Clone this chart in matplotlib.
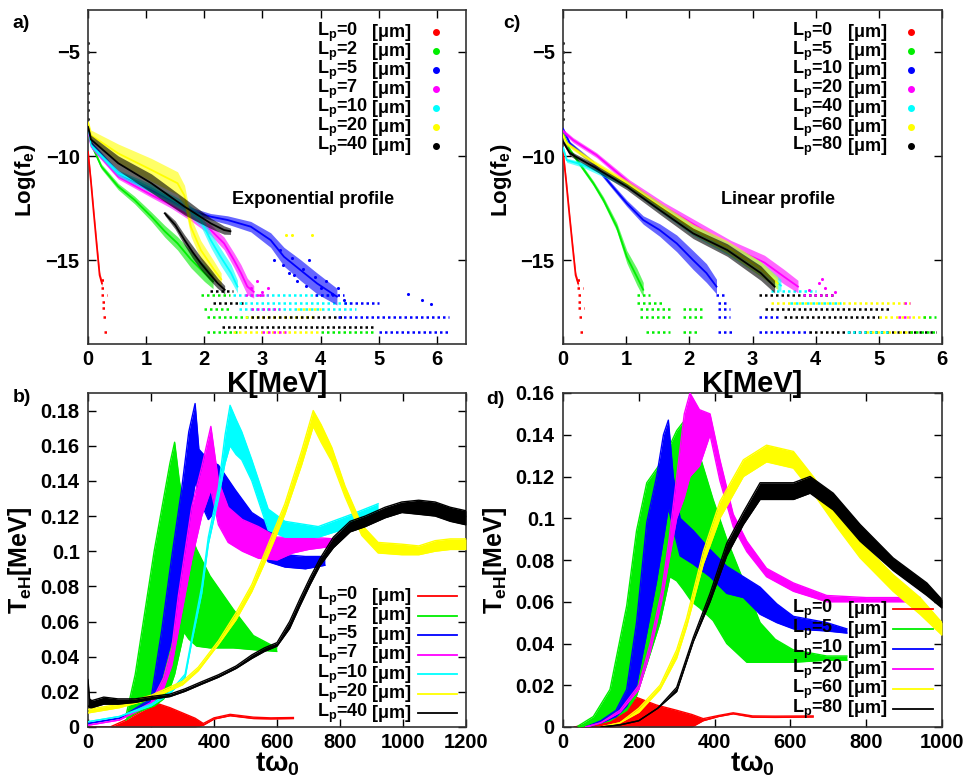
import matplotlib
matplotlib.use("Agg")
import matplotlib.pyplot as plt
import numpy as np

plt.rcParams['font.family'] = ['Liberation Sans', 'DejaVu Sans']
plt.rcParams['font.weight'] = 'bold'
plt.rcParams['mathtext.fontset'] = 'custom'
plt.rcParams['mathtext.rm'] = 'Liberation Sans:bold'
plt.rcParams['mathtext.it'] = 'Liberation Sans:bold'
plt.rcParams['mathtext.bf'] = 'Liberation Sans:bold'
plt.rcParams['mathtext.default'] = 'rm'

RED, GRN, BLU, MAG, CYN, YEL, BLK = '#ff0000', '#00ee00', '#0000ff', '#ff00ff', '#00ffff', '#ffff00', '#000000'

# ---------------- Panel a : exponential profile ----------------
A_LABELS = ['0', '2', '5', '7', '10', '20', '40']
A_COLORS = [RED, GRN, BLU, MAG, CYN, YEL, BLK]

A_RED_K = [0.0, 0.05, 0.10, 0.15, 0.20, 0.24]
A_RED_C = [-9.8, -11.2, -12.75, -14.25, -15.7, -16.1]
A_RED_W = [0.2, 0.15, 0.12, 0.12, 0.15, 0.15]

A_GRN_K = [0.0, 0.03, 0.1, 0.23, 0.52, 0.80, 1.09, 1.32, 1.54, 1.77, 2.0, 2.15]
A_GRN_C = [-8.9, -9.2, -9.7, -10.5, -11.46, -12.1, -12.9, -13.6, -14.18, -14.95, -15.6, -16.0]
A_GRN_W = [0.1, 0.1, 0.1, 0.12, 0.15, 0.18, 0.22, 0.28, 0.32, 0.4, 0.4, 0.35]

A_BLU_K = [0.0, 0.06, 0.52, 1.09, 1.54, 1.83, 2.11, 2.4, 2.8, 3.14, 3.37, 3.65, 3.94, 4.28]
A_BLU_C = [-8.7, -9.4, -10.82, -11.62, -12.26, -12.66, -12.9, -13.06, -13.38, -14.02, -14.82, -15.45, -16.1, -16.73]
A_BLU_W = [0.1, 0.1, 0.12, 0.12, 0.12, 0.15, 0.15, 0.2, 0.25, 0.35, 0.45, 0.5, 0.5, 0.4]

A_MAG_K = [0.0, 0.06, 0.52, 1.09, 1.43, 1.77, 2.11, 2.34, 2.51, 2.63, 2.74, 2.85]
A_MAG_C = [-8.8, -9.55, -10.98, -11.86, -12.34, -12.9, -13.54, -14.18, -14.98, -15.6, -16.25, -16.5]
A_MAG_W = [0.1, 0.1, 0.12, 0.12, 0.15, 0.2, 0.25, 0.3, 0.35, 0.4, 0.4, 0.3]

A_CYN_K = [0.0, 0.06, 0.52, 1.09, 1.66, 1.94, 2.11, 2.28, 2.46, 2.57]
A_CYN_C = [-8.6, -9.5, -10.82, -11.54, -12.42, -13.06, -14.02, -14.82, -15.6, -16.25]
A_CYN_W = [0.1, 0.12, 0.15, 0.2, 0.25, 0.3, 0.35, 0.4, 0.4, 0.3]

A_YEL_K = [0.0, 0.05, 0.52, 1.09, 1.54, 1.66, 1.77, 1.94, 2.17, 2.29]
A_YEL_C = [-8.4, -9.0, -9.87, -10.66, -11.3, -11.9, -13.4, -14.5, -15.45, -15.9]
A_YEL_W = [0.15, 0.25, 0.45, 0.55, 0.55, 0.5, 0.45, 0.45, 0.4, 0.3]

A_BLK_K = [0.0, 0.05, 0.52, 1.09, 1.66, 2.11, 2.34, 2.45]
A_BLK_C = [-8.6, -9.2, -10.34, -11.3, -12.42, -13.22, -13.54, -13.6]
A_BLK_W = [0.1, 0.2, 0.35, 0.45, 0.4, 0.25, 0.2, 0.15]
A_BLK2_K = [1.32, 1.5, 1.66, 1.8, 1.94, 2.08, 2.23, 2.35]
A_BLK2_C = [-12.74, -13.3, -14.02, -14.6, -15.13, -15.6, -16.09, -16.4]
A_BLK2_W = [0.1, 0.2, 0.25, 0.3, 0.3, 0.3, 0.25, 0.2]

A_SPIKE_L = [-4.6, -5.0, -5.5, -6.0, -6.5, -7.0, -7.4, -7.8, -8.2]

A_BLU_PTS_K = [3.2, 3.3, 3.35, 3.45, 3.5, 3.55, 3.6, 3.7, 3.75, 3.8, 3.9, 4.0, 4.1, 4.2, 4.3, 4.4, 5.5, 5.75, 5.9]
A_BLU_PTS_L = [-15.0, -14.5, -15.2, -15.6, -14.9, -15.7, -16.0, -15.4, -16.2, -15.0, -15.8, -16.3, -16.0, -16.6, -16.3, -16.9, -16.6, -16.9, -17.1]
A_YEL_PTS_K = [3.4, 3.5, 3.85]
A_YEL_PTS_L = [-13.8, -13.8, -13.8]
A_MAG_PTS_K = [2.8, 2.9, 3.0, 3.1, 2.95]
A_MAG_PTS_L = [-16.3, -16.0, -16.5, -16.3, -16.65]

# rows of quantised tail points: (colour index, level, K start, K end)
A_ROWS = [
    (0, -15.93, 0.22, 0.30), (0, -16.33, 0.22, 0.31), (0, -16.65, 0.23, 0.32), (0, -16.97, 0.24, 0.32),
    (0, -17.29, 0.24, 0.33), (0, -17.69, 0.25, 0.33), (0, -18.41, 0.27, 0.34),
    (1, -16.65, 1.95, 2.45), (1, -17.33, 2.0, 2.45), (1, -17.73, 2.05, 2.75), (1, -18.43, 2.05, 2.6),
    (5, -18.43, 2.5, 4.0), (5, -17.73, 2.7, 3.9), (5, -17.33, 3.6, 4.0),
    (6, -16.45, 2.1, 2.5), (6, -17.03, 2.15, 2.7), (6, -17.73, 2.8, 4.4), (6, -18.2, 2.3, 4.95),
    (4, -16.65, 2.5, 4.2), (4, -17.03, 2.6, 4.5), (4, -17.33, 2.6, 4.6),
    (3, -16.65, 2.7, 3.1), (3, -17.33, 2.8, 3.3), (3, -18.43, 3.0, 3.4),
    (2, -16.65, 3.9, 4.4), (2, -17.03, 4.4, 5.0), (2, -17.73, 4.3, 6.2), (2, -18.43, 5.0, 6.2),
    (1, -18.43, 4.0, 4.9),
]

# ---------------- Panel c : linear profile ----------------
C_LABELS = ['0', '5', '10', '20', '40', '60', '80']
C_COLORS = [RED, GRN, BLU, MAG, CYN, YEL, BLK]

C_GRN_K = [0.0, 0.11, 0.48, 0.64, 0.85, 1.01, 1.17, 1.27]
C_GRN_C = [-8.9, -9.71, -11.3, -12.1, -13.38, -14.82, -15.78, -16.4]
C_GRN_W = [0.1, 0.1, 0.12, 0.15, 0.2, 0.3, 0.4, 0.35]

C_BLU_K = [0.0, 0.11, 0.48, 0.74, 1.01, 1.27, 1.53, 1.8, 2.06, 2.27, 2.43]
C_BLU_C = [-8.7, -9.4, -10.34, -11.3, -12.26, -13.06, -13.54, -14.18, -14.98, -15.6, -16.25]
C_BLU_W = [0.1, 0.1, 0.12, 0.12, 0.15, 0.2, 0.3, 0.4, 0.45, 0.45, 0.35]

C_MAG_K = [0.0, 0.16, 0.53, 1.06, 1.6, 2.13, 2.66, 3.19, 3.5, 3.72]
C_MAG_C = [-8.8, -9.23, -9.95, -11.3, -12.42, -13.38, -14.34, -15.1, -15.78, -16.25]
C_MAG_W = [0.1, 0.12, 0.12, 0.15, 0.2, 0.25, 0.3, 0.35, 0.35, 0.3]

C_CYN_K = [0.0, 0.06, 0.3, 1.01, 1.53, 2.06, 2.6, 3.13, 3.45]
C_CYN_C = [-9.6, -10.2, -10.4, -11.35, -12.45, -13.55, -14.4, -15.4, -16.2]
C_CYN_W = [0.1, 0.1, 0.12, 0.15, 0.2, 0.25, 0.3, 0.35, 0.3]

C_YEL_K = [0.0, 0.06, 0.48, 1.01, 1.53, 2.06, 2.6, 3.13, 3.4]
C_YEL_C = [-9.0, -9.4, -10.3, -11.3, -12.4, -13.5, -14.35, -15.4, -16.1]
C_YEL_W = [0.1, 0.1, 0.12, 0.15, 0.2, 0.25, 0.3, 0.35, 0.3]

C_BLK_K = [0.0, 0.11, 0.48, 1.01, 1.53, 2.06, 2.6, 3.13, 3.35]
C_BLK_C = [-9.3, -9.87, -10.5, -11.46, -12.58, -13.7, -14.5, -15.6, -16.25]
C_BLK_W = [0.1, 0.12, 0.15, 0.15, 0.2, 0.25, 0.3, 0.35, 0.3]

C_MAG_PTS_K = [4.05, 4.1, 4.15, 3.9, 4.3]
C_MAG_PTS_L = [-16.1, -15.9, -16.3, -16.4, -16.5]

C_ROWS = [
    (0, -15.93, 0.22, 0.30), (0, -16.33, 0.22, 0.31), (0, -16.65, 0.23, 0.32), (0, -16.97, 0.24, 0.32),
    (0, -17.29, 0.24, 0.33), (0, -17.69, 0.25, 0.33), (0, -18.41, 0.27, 0.34),
    (1, -16.65, 1.17, 1.38), (1, -17.03, 1.17, 1.6), (1, -17.33, 1.22, 1.7), (1, -17.33, 1.9, 2.2),
    (1, -17.73, 1.22, 1.7), (1, -17.73, 1.9, 2.2), (1, -18.43, 1.32, 1.7), (1, -18.43, 1.9, 2.15),
    (2, -16.65, 2.43, 2.6), (2, -17.03, 2.45, 2.6), (2, -17.33, 2.45, 2.65), (2, -17.73, 2.45, 2.65),
    (2, -17.73, 3.1, 3.4), (2, -18.43, 2.45, 2.7), (2, -18.43, 3.1, 3.9),
    (6, -16.65, 3.1, 4.3), (6, -17.33, 3.2, 5.2), (6, -18.43, 3.9, 5.9), (6, -17.73, 3.5, 5.0),
    (5, -17.03, 3.3, 5.5), (5, -17.73, 5.0, 5.8), (5, -18.43, 4.8, 5.6),
    (4, -16.45, 3.3, 4.0), (4, -17.03, 3.6, 4.4), (4, -18.43, 4.5, 5.2),
    (3, -16.65, 3.8, 4.3), (3, -17.03, 5.4, 5.5), (3, -17.73, 5.3, 5.5),
    (1, -18.43, 5.5, 5.9), (1, -17.73, 5.7, 5.9),
]

# ---------------- Panel b : T_eH(t), exponential profile ----------------
B_T_RED = [0, 70, 120, 170, 218, 260, 300, 340, 366, 400, 451, 525, 580, 652]
B_RED_LO = [0, 0, 0, 0, 0, 0, 0, 0, 0.001, 0.0045, 0.0064, 0.0048, 0.0046, 0.0048]
B_RED_HI = [0, 0, 0.004, 0.009, 0.0135, 0.011, 0.008, 0.005, 0.002, 0.0052, 0.0072, 0.0056, 0.0052, 0.0054]

B_T_GRN = [120, 150, 180, 210, 240, 260, 275, 290, 305, 320, 345, 387, 461, 525, 599]
B_GRN_HI = [0.006, 0.03, 0.065, 0.10, 0.13, 0.15, 0.162, 0.14, 0.125, 0.112, 0.101, 0.086, 0.067, 0.052, 0.045]
B_GRN_LO = [0.004, 0.008, 0.010, 0.012, 0.016, 0.022, 0.03, 0.042, 0.054, 0.05, 0.046, 0.045, 0.045, 0.044, 0.043]

B_T_BLU = [0, 100, 200, 234, 266, 297, 320, 340, 352, 382, 414, 467, 520, 572, 625, 690, 752]
B_BLU_HI = [0.002, 0.005, 0.016, 0.055, 0.097, 0.135, 0.168, 0.184, 0.158, 0.152, 0.149, 0.135, 0.122, 0.116, 0.098, 0.097, 0.097]
B_BLU_LO = [0.002, 0.005, 0.014, 0.028, 0.05, 0.08, 0.11, 0.14, 0.13, 0.118, 0.125, 0.113, 0.107, 0.094, 0.091, 0.09, 0.092]

B_T_MAG = [0, 100, 200, 240, 266, 287, 308, 329, 361, 390, 414, 445, 490, 541, 600, 650, 700, 783]
B_MAG_HI = [0.001, 0.004, 0.014, 0.028, 0.045, 0.075, 0.1, 0.125, 0.148, 0.171, 0.14, 0.125, 0.118, 0.114, 0.108, 0.108, 0.108, 0.107]
B_MAG_LO = [0.001, 0.004, 0.013, 0.022, 0.035, 0.055, 0.075, 0.095, 0.12, 0.135, 0.115, 0.105, 0.1, 0.096, 0.095, 0.099, 0.101, 0.103]

B_T_CYN = [0, 100, 200, 260, 308, 329, 361, 382, 414, 435, 451, 470, 488, 520, 572, 625, 731, 837, 921]
B_CYN_HI = [0.003, 0.006, 0.013, 0.02, 0.03, 0.05, 0.08, 0.108, 0.136, 0.166, 0.183, 0.175, 0.168, 0.152, 0.124, 0.117, 0.114, 0.121, 0.127]
B_CYN_LO = [0.003, 0.006, 0.012, 0.019, 0.028, 0.048, 0.076, 0.104, 0.13, 0.15, 0.16, 0.155, 0.152, 0.14, 0.112, 0.108, 0.108, 0.114, 0.122]

B_T_YEL = [0, 100, 200, 300, 350, 414, 470, 520, 570, 625, 678, 715, 740, 774, 816, 869, 921, 996, 1050, 1102, 1150, 1200]
B_YEL_LO = [0.008, 0.011, 0.016, 0.024, 0.032, 0.047, 0.061, 0.077, 0.097, 0.121, 0.149, 0.171, 0.162, 0.151, 0.131, 0.109, 0.099, 0.098, 0.098, 0.1, 0.101, 0.101]
B_YEL_HI = [0.01, 0.013, 0.018, 0.026, 0.034, 0.049, 0.065, 0.081, 0.103, 0.127, 0.157, 0.180, 0.172, 0.159, 0.137, 0.115, 0.105, 0.104, 0.103, 0.106, 0.107, 0.107]

B_T_BLK = [0, 5, 12, 50, 95, 150, 202, 260, 308, 360, 414, 470, 520, 560, 600, 640, 673, 705, 737, 779, 832, 880, 943, 996, 1050, 1102, 1150, 1200]
B_BLK_LO = [0.012, 0.011, 0.011, 0.013, 0.013, 0.014, 0.0158, 0.0173, 0.0203, 0.0243, 0.0283, 0.0333, 0.039, 0.043, 0.046, 0.056, 0.069, 0.081, 0.092, 0.102, 0.111, 0.114, 0.119, 0.122, 0.121, 0.120, 0.117, 0.115]
B_BLK_HI = [0.027, 0.016, 0.015, 0.017, 0.016, 0.016, 0.0174, 0.0187, 0.0217, 0.0257, 0.0297, 0.0347, 0.041, 0.045, 0.048, 0.06, 0.073, 0.085, 0.096, 0.108, 0.117, 0.12, 0.125, 0.128, 0.129, 0.128, 0.125, 0.123]

B_LABELS = ['0', '2', '5', '7', '10', '20', '40']

# ---------------- Panel d : T_eH(t), linear profile ----------------
D_T_RED = [30, 80, 120, 160, 194, 247, 300, 340, 370, 410, 449, 500, 560, 660]
D_RED_LO = [0, 0, 0, 0, 0, 0, 0, 0, 0.003, 0.005, 0.0063, 0.0047, 0.0046, 0.0048]
D_RED_HI = [0, 0.002, 0.006, 0.011, 0.0142, 0.0105, 0.008, 0.006, 0.004, 0.0055, 0.0068, 0.0053, 0.0052, 0.0053]

D_T_GRN = [40, 80, 124, 168, 194, 221, 256, 282, 300, 317, 340, 361, 396, 432, 485, 520, 560, 607, 696, 749]
D_GRN_HI = [0.0005, 0.005, 0.018, 0.058, 0.094, 0.117, 0.126, 0.135, 0.142, 0.146, 0.138, 0.13, 0.109, 0.09, 0.066, 0.05, 0.042, 0.037, 0.034, 0.034]
D_GRN_LO = [0.0, 0.001, 0.003, 0.008, 0.015, 0.03, 0.05, 0.072, 0.07, 0.066, 0.06, 0.057, 0.051, 0.04, 0.031, 0.031, 0.031, 0.031, 0.032, 0.032]

D_T_BLU = [60, 100, 140, 168, 194, 221, 247, 265, 278, 291, 309, 344, 388, 432, 476, 520, 564, 608, 696, 749]
D_BLU_HI = [0.0, 0.003, 0.008, 0.018, 0.05, 0.098, 0.12, 0.14, 0.147, 0.12, 0.10, 0.094, 0.085, 0.077, 0.072, 0.067, 0.059, 0.053, 0.05, 0.047]
D_BLU_LO = [0.0, 0.002, 0.005, 0.01, 0.02, 0.045, 0.07, 0.09, 0.105, 0.095, 0.082, 0.078, 0.072, 0.064, 0.062, 0.054, 0.05, 0.047, 0.046, 0.045]

D_T_MAG = [60, 100, 150, 200, 230, 260, 280, 300, 320, 335, 360, 388, 414, 449, 485, 537, 608, 696, 800, 871, 942]
D_MAG_HI = [0, 0.002, 0.008, 0.02, 0.04, 0.065, 0.09, 0.12, 0.15, 0.16, 0.152, 0.15, 0.128, 0.102, 0.089, 0.076, 0.069, 0.063, 0.062, 0.062, 0.062]
D_MAG_LO = [0, 0.002, 0.007, 0.018, 0.036, 0.06, 0.08, 0.1, 0.11, 0.12, 0.125, 0.14, 0.118, 0.096, 0.084, 0.072, 0.065, 0.06, 0.06, 0.06, 0.06]

D_T_YEL = [100, 150, 200, 256, 300, 326, 370, 414, 476, 537, 608, 660, 722, 784, 871, 942, 1000]
D_YEL_LO = [0.0, 0.002, 0.007, 0.018, 0.033, 0.048, 0.078, 0.1, 0.12, 0.127, 0.124, 0.112, 0.096, 0.081, 0.065, 0.054, 0.044]
D_YEL_HI = [0.0, 0.002, 0.009, 0.02, 0.037, 0.052, 0.084, 0.108, 0.128, 0.135, 0.132, 0.12, 0.104, 0.089, 0.073, 0.062, 0.05]

D_T_BLK = [100, 150, 200, 250, 300, 344, 388, 432, 476, 520, 564, 608, 652, 713, 784, 871, 960, 1000]
D_BLK_LO = [0.0, 0.001, 0.003, 0.009, 0.017, 0.041, 0.06, 0.082, 0.097, 0.109, 0.109, 0.109, 0.112, 0.104, 0.089, 0.075, 0.063, 0.057]
D_BLK_HI = [0.0, 0.001, 0.003, 0.009, 0.019, 0.043, 0.064, 0.088, 0.103, 0.117, 0.117, 0.117, 0.12, 0.112, 0.097, 0.081, 0.069, 0.061]

D_LABELS = ['0', '5', '10', '20', '60', '80']
D_COLORS = [RED, GRN, BLU, MAG, YEL, BLK]

# ---------------- figure ----------------
W, H = 967, 778
fig = plt.figure(figsize=(W / 100, H / 100), dpi=100)


def box(l, t, r, b):
    return [l / W, 1 - b / H, (r - l) / W, (b - t) / H]


axa = fig.add_axes(box(88, 10, 466, 344))
axc = fig.add_axes(box(563, 10, 942, 344))
axb = fig.add_axes(box(88, 393, 466, 727))
axd = fig.add_axes(box(563, 393, 942, 727))

for ax in (axa, axb, axc, axd):
    ax.tick_params(direction='in', length=6, width=1, top=True, right=True,
                   labelsize=14.5)
    ax.tick_params(axis='x', pad=4)
    ax.tick_params(axis='y', pad=6)
    for s in ax.spines.values():
        s.set_linewidth(1.2)
        s.set_color('#333333')


def band(ax, k, c, w, col, z, alpha=0.6, lw=1.3):
    k = np.asarray(k); c = np.asarray(c); w = np.asarray(w)
    ax.fill_between(k, c - w, c + w, color=col, alpha=alpha, lw=0, zorder=z)
    ax.plot(k, c, color=col, lw=lw, zorder=z + 0.1)


def rows(ax, rowlist, colors):
    for ci, lvl, k0, k1 in rowlist:
        ax.plot([k0, k1], [lvl, lvl], color=colors[ci], lw=1.8,
                ls=(0, (1.0, 1.2)), zorder=2)


def spectra(ax, series, rowlist, colors, pts):
    rows(ax, rowlist, colors)
    for i, (k, c, w) in enumerate(series):
        band(ax, k, c, w, colors[i], 3 + i)
    for k, l, col in pts:
        ax.scatter(k, l, s=5, color=col, lw=0, zorder=12)


# panel a
spectra(axa,
        [(A_RED_K, A_RED_C, A_RED_W), (A_GRN_K, A_GRN_C, A_GRN_W),
         (A_BLU_K, A_BLU_C, A_BLU_W), (A_MAG_K, A_MAG_C, A_MAG_W),
         (A_CYN_K, A_CYN_C, A_CYN_W), (A_YEL_K, A_YEL_C, A_YEL_W),
         (A_BLK_K, A_BLK_C, A_BLK_W)],
        A_ROWS, A_COLORS,
        [(A_BLU_PTS_K, A_BLU_PTS_L, BLU), (A_YEL_PTS_K, A_YEL_PTS_L, YEL),
         (A_MAG_PTS_K, A_MAG_PTS_L, MAG),
         ([0.0] * len(A_SPIKE_L), A_SPIKE_L, '#333333')])
band(axa, A_BLK2_K, A_BLK2_C, A_BLK2_W, BLK, 10)

# panel c
spectra(axc,
        [(A_RED_K, A_RED_C, A_RED_W), (C_GRN_K, C_GRN_C, C_GRN_W),
         (C_BLU_K, C_BLU_C, C_BLU_W), (C_MAG_K, C_MAG_C, C_MAG_W),
         (C_CYN_K, C_CYN_C, C_CYN_W), (C_YEL_K, C_YEL_C, C_YEL_W),
         (C_BLK_K, C_BLK_C, C_BLK_W)],
        C_ROWS, C_COLORS,
        [(C_MAG_PTS_K, C_MAG_PTS_L, MAG),
         ([0.0] * len(A_SPIKE_L), A_SPIKE_L, '#333333')])

for ax, xmax in ((axa, 6.5), (axc, 6.0)):
    ax.set_xlim(0, xmax)
    ax.set_ylim(-19, -3)
    ax.set_xticks(range(0, 7))
    ax.set_yticks([-15, -10, -5])


def tband(ax, t, lo, hi, col, z):
    ax.fill_between(t, lo, hi, color=col, lw=0, zorder=z)
    ax.plot(t, lo, color=col, lw=1.0, zorder=z)
    ax.plot(t, hi, color=col, lw=1.0, zorder=z)


tband(axb, B_T_RED, B_RED_LO, B_RED_HI, RED, 2)
tband(axb, B_T_GRN, B_GRN_LO, B_GRN_HI, GRN, 3)
tband(axb, B_T_BLU, B_BLU_LO, B_BLU_HI, BLU, 4)
tband(axb, B_T_MAG, B_MAG_LO, B_MAG_HI, MAG, 5)
tband(axb, B_T_CYN, B_CYN_LO, B_CYN_HI, CYN, 6)
tband(axb, B_T_YEL, B_YEL_LO, B_YEL_HI, YEL, 7)
tband(axb, B_T_BLK, B_BLK_LO, B_BLK_HI, BLK, 8)

tband(axd, D_T_RED, D_RED_LO, D_RED_HI, RED, 2)
tband(axd, D_T_GRN, D_GRN_LO, D_GRN_HI, GRN, 3)
tband(axd, D_T_BLU, D_BLU_LO, D_BLU_HI, BLU, 4)
tband(axd, D_T_MAG, D_MAG_LO, D_MAG_HI, MAG, 5)
tband(axd, D_T_YEL, D_YEL_LO, D_YEL_HI, YEL, 7)
tband(axd, D_T_BLK, D_BLK_LO, D_BLK_HI, BLK, 8)

axb.set_xlim(0, 1200)
axb.set_ylim(0, 0.19)
axb.set_xticks(range(0, 1201, 200))
axb.set_yticks([0, 0.02, 0.04, 0.06, 0.08, 0.1, 0.12, 0.14, 0.16, 0.18])
axb.set_yticklabels(['0', '0.02', '0.04', '0.06', '0.08', '0.1', '0.12', '0.14', '0.16', '0.18'])
axd.set_xlim(0, 1000)
axd.set_ylim(0, 0.16)
axd.set_xticks(range(0, 1001, 200))
axd.set_yticks([0, 0.02, 0.04, 0.06, 0.08, 0.1, 0.12, 0.14, 0.16])
axd.set_yticklabels(['0', '0.02', '0.04', '0.06', '0.08', '0.1', '0.12', '0.14', '0.16'])

for ax in (axa, axb, axc, axd):
    for lab in ax.get_xticklabels() + ax.get_yticklabels():
        lab.set_fontweight('bold')


# legends drawn as text rows
def legend(ax, labels, colors, y0, dy, x1, x2, xm, kind):
    for i, (lab, col) in enumerate(zip(labels, colors)):
        y = y0 - i * dy
        ax.text(x1, y, 'L$_{p}$=' + lab, transform=ax.transAxes, fontsize=13,
                fontweight='bold', va='center', ha='left', zorder=20)
        ax.text(x2, y, '[μm]', transform=ax.transAxes, fontsize=13,
                fontweight='bold', va='center', ha='left', zorder=20)
        if kind == 'pt':
            ax.plot([xm], [y], 'o', ms=4, color=col, transform=ax.transAxes,
                    zorder=20, clip_on=False)
        else:
            ax.plot(xm, [y, y], color=col, lw=1.3, transform=ax.transAxes,
                    zorder=20)


legend(axa, A_LABELS, A_COLORS, 0.934, 0.057, 0.606, 0.752, 0.921, 'pt')
legend(axc, C_LABELS, C_COLORS, 0.934, 0.057, 0.604, 0.752, 0.918, 'pt')
legend(axb, B_LABELS, A_COLORS, 0.392, 0.0585, 0.606, 0.752, [0.873, 0.976], 'ln')
legend(axd, D_LABELS, D_COLORS, 0.353, 0.0598, 0.604, 0.752, [0.871, 0.976], 'ln')

axa.text(0.596, 0.434, 'Exponential profile', transform=axa.transAxes,
         fontsize=13, fontweight='bold', ha='center', va='center')
axc.text(0.567, 0.434, 'Linear profile', transform=axc.transAxes,
         fontsize=13, fontweight='bold', ha='center', va='center')


# axis labels and panel letters
def ftxt(x, y, s, **kw):
    fig.text(x / W, 1 - y / H, s, **kw)


ftxt(277, 392, 'K[MeV]', fontsize=21, fontweight='bold', ha='center', va='baseline')
ftxt(277, 771, 'tω$_0$', fontsize=20, fontweight='bold', ha='center', va='baseline')
ftxt(26, 180, 'Log(f$_e$)', fontsize=16, fontweight='bold', ha='center', va='center', rotation=90)
ftxt(501, 180, 'Log(f$_e$)', fontsize=16, fontweight='bold', ha='center', va='center', rotation=90)
ftxt(20, 560, 'T$_{eH}$[MeV]', fontsize=18, fontweight='bold', ha='center', va='center', rotation=90)
ftxt(495, 560, 'T$_{eH}$[MeV]', fontsize=18, fontweight='bold', ha='center', va='center', rotation=90)
ftxt(752, 392, 'K[MeV]', fontsize=21, fontweight='bold', ha='center', va='baseline')
ftxt(752, 771, 'tω$_0$', fontsize=20, fontweight='bold', ha='center', va='baseline')

ftxt(21, 24, 'a)', fontsize=14, fontweight='bold', ha='center', va='center')
ftxt(22, 398, 'b)', fontsize=14, fontweight='bold', ha='center', va='center')
ftxt(512, 23, 'c)', fontsize=14, fontweight='bold', ha='center', va='center')
ftxt(495, 400, 'd)', fontsize=14, fontweight='bold', ha='center', va='center')

fig.savefig('out.png', dpi=100)
